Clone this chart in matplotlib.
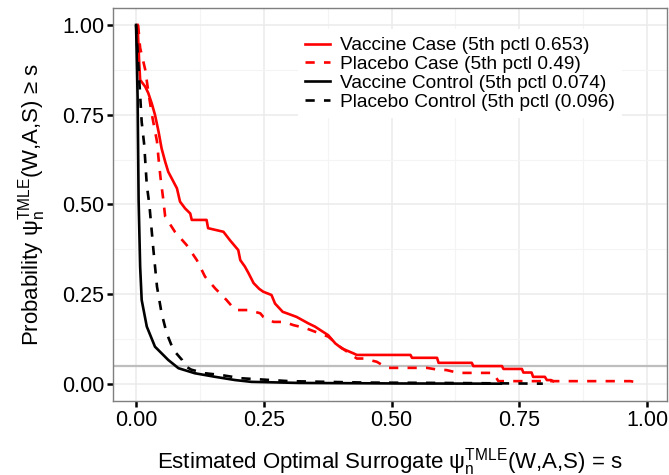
import matplotlib
matplotlib.use("Agg")
import matplotlib.pyplot as plt

plt.rcParams['font.family'] = ['Liberation Sans', 'DejaVu Sans']
plt.rcParams['mathtext.fontset'] = 'custom'
plt.rcParams['mathtext.rm'] = 'Liberation Sans'
plt.rcParams['mathtext.it'] = 'Liberation Sans:italic'
plt.rcParams['mathtext.bf'] = 'Liberation Sans:bold'

# curves: s values and P(psi >= s), vertices of each line
vac_case_s = [0.003, 0.006, 0.008, 0.018, 0.024, 0.031, 0.037, 0.044, 0.050, 0.057,
              0.063, 0.073, 0.080, 0.086, 0.096, 0.106, 0.109, 0.138, 0.141, 0.171,
              0.184, 0.200, 0.204, 0.213, 0.220, 0.230, 0.241, 0.249, 0.265, 0.272,
              0.287, 0.295, 0.314, 0.337, 0.350, 0.376, 0.390, 0.403, 0.426, 0.432,
              0.537, 0.540, 0.589, 0.592, 0.657, 0.660, 0.716, 0.719, 0.755, 0.758,
              0.774, 0.777, 0.800, 0.804, 0.812, 0.816]
vac_case_v = [1.000, 0.900, 0.847, 0.828, 0.810, 0.780, 0.750, 0.703, 0.656, 0.619,
              0.591, 0.564, 0.545, 0.508, 0.489, 0.475, 0.457, 0.457, 0.434, 0.424,
              0.400, 0.373, 0.345, 0.327, 0.309, 0.281, 0.265, 0.257, 0.248, 0.224,
              0.201, 0.197, 0.187, 0.169, 0.160, 0.136, 0.113, 0.099, 0.085, 0.081,
              0.081, 0.073, 0.073, 0.059, 0.059, 0.050, 0.050, 0.042, 0.042, 0.032,
              0.032, 0.020, 0.020, 0.011, 0.011, 0.008]

pla_case_s = [0.004, 0.008, 0.018, 0.024, 0.031, 0.041, 0.044, 0.048, 0.053, 0.057,
              0.076, 0.099, 0.119, 0.135, 0.155, 0.177, 0.194, 0.220, 0.243, 0.249,
              0.269, 0.290, 0.308, 0.331, 0.376, 0.399, 0.419, 0.432, 0.445, 0.471,
              0.477, 0.491, 0.569, 0.595, 0.607, 0.631, 0.699, 0.709, 0.967, 0.985]
pla_case_v = [1.000, 0.936, 0.875, 0.814, 0.750, 0.675, 0.628, 0.573, 0.517, 0.466,
              0.424, 0.387, 0.345, 0.299, 0.266, 0.234, 0.206, 0.206, 0.197, 0.187,
              0.173, 0.173, 0.164, 0.156, 0.132, 0.104, 0.084, 0.071, 0.071, 0.062,
              0.057, 0.045, 0.045, 0.039, 0.039, 0.031, 0.031, 0.008, 0.008, 0.004]

vac_ctrl_s = [0.000, 0.003, 0.005, 0.008, 0.011, 0.021, 0.037, 0.063, 0.083, 0.115,
              0.155, 0.194, 0.226, 0.320, 0.520, 0.714]
vac_ctrl_v = [1.000, 0.800, 0.513, 0.327, 0.234, 0.160, 0.104, 0.067, 0.044, 0.030,
              0.020, 0.011, 0.006, 0.003, 0.0015, 0.001]

pla_ctrl_s = [0.000, 0.004, 0.008, 0.011, 0.016, 0.021, 0.026, 0.034, 0.041, 0.050,
              0.060, 0.073, 0.090, 0.096, 0.108, 0.135, 0.167, 0.206, 0.300, 0.450,
              0.600, 0.796]
pla_ctrl_v = [1.000, 0.900, 0.805, 0.730, 0.666, 0.554, 0.500, 0.373, 0.271, 0.197,
              0.141, 0.095, 0.067, 0.050, 0.040, 0.030, 0.025, 0.016, 0.008, 0.004,
              0.003, 0.001]

labels = ['Vaccine Case (5th pctl 0.653)', 'Placebo Case (5th pctl 0.49)',
          'Vaccine Control (5th pctl 0.074)', 'Placebo Control (5th pctl (0.096)']
cutoff = 0.05

fig = plt.figure(figsize=(6.69, 4.75), dpi=100)
ax = fig.add_axes([0.169, 0.156, 0.828, 0.827])

ax.axhline(cutoff, color='#BEBEBE', linewidth=1.6, zorder=1)

lw = 1.9
dash = (0, (3.5, 3.5))
ax.plot(vac_case_s, vac_case_v, color='#FF0000', lw=lw, label=labels[0], zorder=3)
ax.plot(pla_case_s, pla_case_v, color='#FF0000', lw=lw, linestyle=dash, label=labels[1], zorder=3)
ax.plot(vac_ctrl_s, vac_ctrl_v, color='black', lw=lw, label=labels[2], zorder=3)
ax.plot(pla_ctrl_s, pla_ctrl_v, color='black', lw=lw, linestyle=dash, label=labels[3], zorder=3)

ax.set_xlim(-0.045, 1.039)
ax.set_ylim(-0.047, 1.047)
ticks = [0, 0.25, 0.5, 0.75, 1.0]
tick_labels = ['0.00', '0.25', '0.50', '0.75', '1.00']
ax.set_xticks(ticks)
ax.set_yticks(ticks)
ax.set_xticklabels(tick_labels)
ax.set_yticklabels(tick_labels)
ax.set_xticks([0.125, 0.375, 0.625, 0.875], minor=True)
ax.set_yticks([0.125, 0.375, 0.625, 0.875], minor=True)
ax.grid(True, which='major', color='#EBEBEB', linewidth=1.1, zorder=0)
ax.grid(True, which='minor', color='#F4F4F4', linewidth=0.8, zorder=0)
ax.set_axisbelow(True)
ax.tick_params(which='major', direction='out', length=4.5, width=1.8, color='black',
               labelsize=15.5, labelcolor='black', pad=2)
ax.tick_params(which='minor', length=0)
for sp in ax.spines.values():
    sp.set_color('#7F7F7F')
    sp.set_linewidth(1.0)

ax.set_xlabel(r'Estimated Optimal Surrogate $\mathrm{\psi}_\mathrm{n}^{\mathrm{TMLE}}$(W,A,S) = s',
              fontsize=16, labelpad=11)
ax.set_ylabel(r'Probability $\mathrm{\psi}_\mathrm{n}^{\mathrm{TMLE}}$(W,A,S) ≥ s',
              fontsize=16, labelpad=10)

leg = ax.legend(loc='upper left', bbox_to_anchor=(0.333, 0.946), fontsize=13.8, frameon=True,
                facecolor='white', edgecolor='none', framealpha=1, fancybox=False,
                handlelength=1.3, handletextpad=0.5, labelspacing=0.07, borderpad=0.4,
                borderaxespad=0)

fig.savefig('out.png', dpi=100)
